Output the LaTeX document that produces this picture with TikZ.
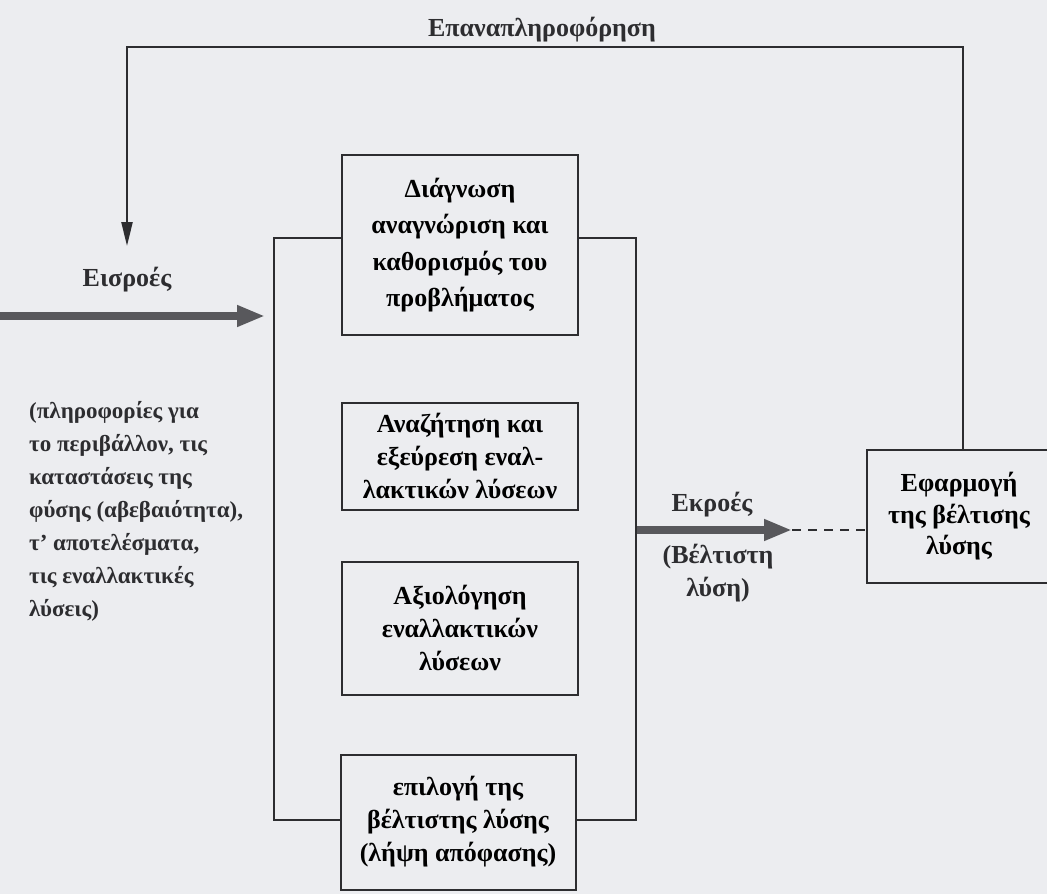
\documentclass[tikz,border=0pt]{standalone}
\usepackage{fontspec}
\setmainfont{Liberation Serif}
\usetikzlibrary{arrows.meta, calc}

\definecolor{paper}{RGB}{236,237,240}
\definecolor{ink}{RGB}{45,45,48}
\definecolor{flow}{RGB}{88,88,92}

\tikzset{
    stage/.style={draw=ink, line width=2pt, fill=paper, align=center, inner sep=0pt,
        font=\bfseries\fontsize{26}{33}\selectfont},
    txt/.style={inner sep=0pt, align=center, text=ink,
        font=\bfseries\fontsize{26}{33}\selectfont},
    flowarrow/.style={draw=flow, line width=8pt, -{Triangle[length=28pt, width=20pt]}},
    fbline/.style={draw=ink, line width=2.4pt, -{Triangle[length=24pt, width=11pt]}}
}

\begin{document}
\begin{tikzpicture}[x=1pt, y=-1pt]
\clip (0,0) rectangle (1047,894);
\fill[paper] (0,0) rectangle (1047,894);

% frame round the four stages
\node (frame) [draw=ink, line width=2pt, inner sep=0pt,
    minimum width=362pt, minimum height=582pt] at (455,529) {};

\node (diag) [stage, minimum width=236pt, minimum height=180pt,
    font=\bfseries\fontsize{26}{36.5}\selectfont] at (460,245)
    {Διάγνωση\\αναγνώριση και\\καθορισμός του\\προβλήματος};
\node (search) [stage, minimum width=236pt, minimum height=107pt] at (460,456)
    {Αναζήτηση και\\εξεύρεση εναλ-\\λακτικών λύσεων};
\node (eval) [stage, minimum width=236pt, minimum height=133pt] at (460,628)
    {Αξιολόγηση\\εναλλακτικών\\λύσεων};
\node (choose) [stage, minimum width=235pt, minimum height=135pt] at (458,822)
    {επιλογή της\\βέλτιστης λύσης\\(λήψη απόφασης)};

\node (apply) [stage, minimum width=185pt, minimum height=133pt,
    font=\bfseries\fontsize{26}{31.5}\selectfont] at (959,516.5)
    {Εφαρμογή\\της βέλτισης\\λύσης};

% inputs
\node (intxt) [txt] at (127,280) {Εισροές};
\node (indata) [txt, anchor=north west, align=left,
    font=\bfseries\fontsize{23}{33}\selectfont] at (29,401)
    {(πληροφορίες για\\το περιβάλλον, τις\\καταστάσεις της\\φύσης (αβεβαιότητα),\\τ’ αποτελέσματα,\\τις εναλλακτικές\\λύσεις)};
\coordinate (instart) at (0,316);
\draw[flowarrow] (instart) -- ([xshift=-8pt]instart -| frame.west);

% outputs
\node (outtxt) [txt] at (712,505) {Εκροές};
\node (outdata) [txt] at (718,573) {(Βέλτιστη\\λύση)};
\coordinate (outtip) at (792,530);
\draw[flowarrow] (outtip -| frame.east) -- (outtip);
\draw[draw=ink, line width=1.8pt, dash pattern=on 9pt off 7pt] (outtip) -- (outtip -| apply.west);

% feedback
\node (fbtxt) [txt] at (542,30) {Επαναπληροφόρηση};
\coordinate (fbcorner) at (127,47);
\coordinate (fbtip) at (127,246);
\draw[fbline] ([xshift=4pt]apply.north) |- (fbcorner) -- (fbtip);
\end{tikzpicture}
\end{document}
